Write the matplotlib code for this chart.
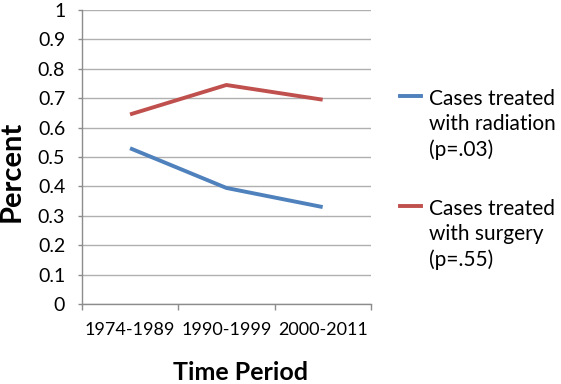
import numpy as np
import matplotlib
matplotlib.use("Agg")
import matplotlib.pyplot as plt
from matplotlib.lines import Line2D

# data
periods = ["1974-1989", "1990-1999", "2000-2011"]
radiation = [0.53, 0.395, 0.33]
surgery = [0.645, 0.745, 0.695]
labels = ["Cases treated\nwith radiation\n(p=.03)", "Cases treated\nwith surgery\n(p=.55)"]
colors = ["#4F81BD", "#C0504D"]
yticks = [0, 0.1, 0.2, 0.3, 0.4, 0.5, 0.6, 0.7, 0.8, 0.9, 1]
ytick_labels = ["0", "0.1", "0.2", "0.3", "0.4", "0.5", "0.6", "0.7", "0.8", "0.9", "1"]

plt.rcParams['font.family'] = ['Lato', 'DejaVu Sans']

fig = plt.figure(figsize=(5.61, 3.84), dpi=100)
ax = fig.add_axes([0.146, 0.208, 0.515, 0.766])

x = np.arange(len(periods))
ax.plot(x, radiation, color=colors[0], lw=2.8, solid_capstyle='butt')
ax.plot(x, surgery, color=colors[1], lw=2.8, solid_capstyle='butt')

ax.set_xlim(-0.5, 2.5)
ax.set_ylim(0, 1)
ax.set_yticks(yticks)
ax.set_yticklabels(ytick_labels, fontsize=14)
ax.yaxis.grid(True, color="#B0B0B0", lw=1)
ax.set_axisbelow(True)

# category boundaries get the tick marks, labels sit between them
ax.set_xticks([-0.5, 0.5, 1.5, 2.5])
ax.set_xticklabels([])
ax.set_xticks(x, minor=True)
ax.set_xticklabels(periods, minor=True, fontsize=13)
ax.tick_params(axis='x', which='minor', length=0, pad=13)
ax.tick_params(axis='x', which='major', length=4.5, color="#8C8C8C", width=1)
ax.tick_params(axis='y', length=3, color="#8C8C8C", width=1, pad=9)

for s in ['top', 'right']:
    ax.spines[s].set_visible(False)
for s in ['left', 'bottom']:
    ax.spines[s].set_color("#8C8C8C")
    ax.spines[s].set_linewidth(1)

ax.set_ylabel("Percent", fontsize=21, fontweight='bold', va='center', ha='center')
ax.yaxis.set_label_coords(-0.242, 0.452)
ax.set_xlabel("Time Period", fontsize=18, fontweight='bold', va='center', ha='center')
ax.xaxis.set_label_coords(0.55, -0.231)

# legend drawn by hand so the key sits on the first text line
for i, (lab, col) in enumerate(zip(labels, colors)):
    ykey = 0.75 - i * 0.2865
    fig.add_artist(Line2D([0.713, 0.750], [ykey, ykey], color=col, lw=2.8,
                          transform=fig.transFigure))
    fig.text(0.765, ykey + 0.018, lab, fontsize=15, va='top', ha='left',
             linespacing=1.32)

fig.savefig("out.png", dpi=100)
